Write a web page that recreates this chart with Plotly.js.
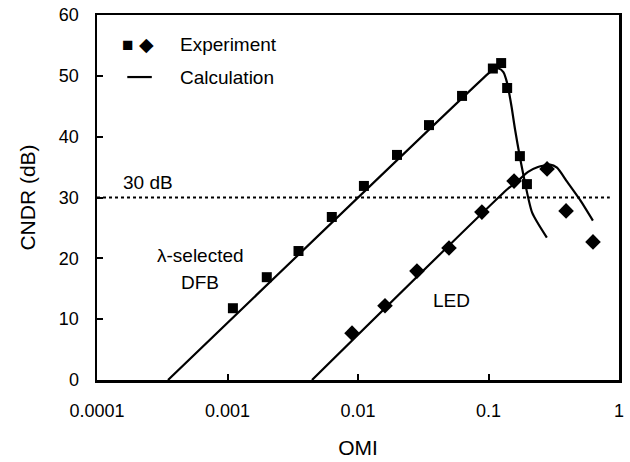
<!DOCTYPE html>
<html>
<head>
<meta charset="utf-8">
<script src="https://cdn.plot.ly/plotly-3.0.1.min.js"></script>
<style>html,body{margin:0;padding:0;background:#fff}#chart{width:630px;height:462px}</style>
</head>
<body>
<div id="chart"></div>
<script>
// Experiment: λ-selected DFB (squares)
const dfbOMI  = [0.0011, 0.0020, 0.0035, 0.0063, 0.0111, 0.0199, 0.035, 0.0627, 0.108, 0.125, 0.139, 0.174, 0.197];
const dfbCNDR = [11.8, 16.9, 21.2, 26.8, 31.9, 37.0, 41.9, 46.7, 51.2, 52.1, 48.0, 36.8, 32.2];
// Experiment: LED (diamonds)
const ledOMI  = [0.009, 0.0161, 0.0283, 0.0498, 0.089, 0.157, 0.281, 0.393, 0.632];
const ledCNDR = [7.7, 12.2, 17.9, 21.7, 27.6, 32.7, 34.7, 27.8, 22.7];
// Calculation: DFB
const dfbCalcOMI  = [0.00035, 0.1, 0.11, 0.12, 0.13, 0.139, 0.15, 0.16, 0.184, 0.216, 0.28];
const dfbCalcCNDR = [0, 50.4, 51.1, 51.2, 50.6, 48.8, 45.0, 41.1, 34.0, 27.5, 23.4];
// Calculation: LED
const ledCalcOMI  = [0.00444, 0.14, 0.165, 0.201, 0.239, 0.296, 0.335, 0.40, 0.503, 0.631];
const ledCalcCNDR = [0, 31.4, 32.6, 34.2, 35.0, 35.4, 34.9, 32.6, 29.6, 26.2];
// 30 dB reference
const refOMI  = [0.0001, 0.85];
const refCNDR = [30, 30];
const xTickVals = [0.0001, 0.001, 0.01, 0.1, 1];
const xTickText = ["0.0001", "0.001", "0.01", "0.1", "1"];
const yTickVals = [0, 10, 20, 30, 40, 50, 60];

const font = "Liberation Sans, Arial, sans-serif";
const traces = [
  {x: refOMI, y: refCNDR, mode: "lines", line: {color: "#000", width: 2, dash: "dot"}, hoverinfo: "skip"},
  {x: dfbCalcOMI, y: dfbCalcCNDR, mode: "lines", line: {color: "#000", width: 2.2, shape: "spline", smoothing: 0.6}},
  {x: ledCalcOMI, y: ledCalcCNDR, mode: "lines", line: {color: "#000", width: 2.2, shape: "spline", smoothing: 0.6}},
  {x: dfbOMI, y: dfbCNDR, mode: "markers", marker: {symbol: "square", size: 10, color: "#000"}},
  {x: ledOMI, y: ledCNDR, mode: "markers", marker: {symbol: "diamond", size: 12, color: "#000"}}
];

const layout = {
  width: 630, height: 462,
  margin: {l: 97, r: 11, t: 15, b: 82},
  paper_bgcolor: "#fff", plot_bgcolor: "#fff",
  showlegend: false,
  font: {family: font, size: 18, color: "#000"},
  xaxis: {
    type: "log", range: [-4, 0],
    tickvals: xTickVals, ticktext: xTickText,
    ticks: "inside", ticklen: 6, tickwidth: 2, tickcolor: "#000",
    showline: true, linewidth: 2.5, linecolor: "#000", mirror: true,
    showgrid: false, zeroline: false,
    ticklabelstandoff: 13,
    tickfont: {family: font, size: 18},
    title: {text: "OMI", font: {family: font, size: 21}, standoff: 20}
  },
  yaxis: {
    range: [0, 60],
    tickvals: yTickVals,
    ticks: "inside", ticklen: 6, tickwidth: 2, tickcolor: "#000",
    showline: true, linewidth: 2.5, linecolor: "#000", mirror: true,
    showgrid: false, zeroline: false,
    ticklabelstandoff: 12,
    tickfont: {family: font, size: 18},
    title: {text: "CNDR (dB)", font: {family: font, size: 21}, standoff: 18}
  },
  annotations: [
    {xref: "paper", yref: "paper", x: 0.155, y: 0.92, text: "Experiment", showarrow: false, xanchor: "left", yanchor: "middle", font: {size: 19}},
    {xref: "paper", yref: "paper", x: 0.155, y: 0.83, text: "Calculation", showarrow: false, xanchor: "left", yanchor: "middle", font: {size: 19}},
    {xref: "paper", yref: "paper", x: 0.079, y: 0.92, text: "■ ◆", showarrow: false, xanchor: "center", yanchor: "middle", font: {size: 19}},
    {xref: "x", yref: "y", x: Math.log10(0.000245), y: 32.4, text: "30 dB", showarrow: false, font: {size: 19}},
    {xref: "x", yref: "y", x: Math.log10(0.00062), y: 20.4, text: "λ-selected", showarrow: false, font: {size: 19}},
    {xref: "x", yref: "y", x: Math.log10(0.00062), y: 16.1, text: "DFB", showarrow: false, font: {size: 19}},
    {xref: "x", yref: "y", x: Math.log10(0.0516), y: 13.0, text: "LED", showarrow: false, font: {size: 19}}
  ],
  shapes: [
    {type: "line", xref: "paper", yref: "paper", x0: 0.058, x1: 0.105, y0: 0.83, y1: 0.83, line: {color: "#000", width: 2.2}}
  ]
};

Plotly.newPlot("chart", traces, layout, {staticPlot: true, displayModeBar: false});
</script>
</body>
</html>
